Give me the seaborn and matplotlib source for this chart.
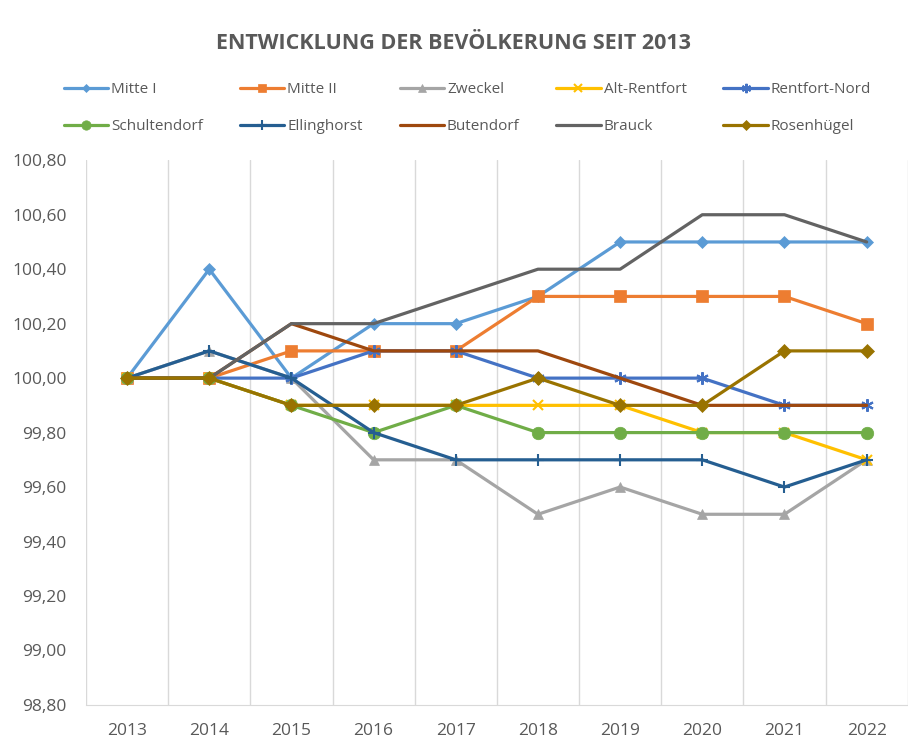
import numpy as np
import pandas as pd
import seaborn as sns
import matplotlib.pyplot as plt
from matplotlib.ticker import FuncFormatter

years = ['2013', '2014', '2015', '2016', '2017', '2018', '2019', '2020', '2021', '2022']

mitte_1 = [100.0, 100.4, 100.0, 100.2, 100.2, 100.3, 100.5, 100.5, 100.5, 100.5]
mitte_2 = [100.0, 100.0, 100.1, 100.1, 100.1, 100.3, 100.3, 100.3, 100.3, 100.2]
zweckel = [100.0, 100.1, 100.0, 99.7, 99.7, 99.5, 99.6, 99.5, 99.5, 99.7]
alt_rentfort = [100.0, 100.0, 99.9, 99.9, 99.9, 99.9, 99.9, 99.8, 99.8, 99.7]
rentfort_nord = [100.0, 100.0, 100.0, 100.1, 100.1, 100.0, 100.0, 100.0, 99.9, 99.9]
schultendorf = [100.0, 100.0, 99.9, 99.8, 99.9, 99.8, 99.8, 99.8, 99.8, 99.8]
ellinghorst = [100.0, 100.1, 100.0, 99.8, 99.7, 99.7, 99.7, 99.7, 99.6, 99.7]
butendorf = [100.0, 100.0, 100.2, 100.1, 100.1, 100.1, 100.0, 99.9, 99.9, 99.9]
brauck = [100.0, 100.0, 100.2, 100.2, 100.3, 100.4, 100.4, 100.6, 100.6, 100.5]
rosenhuegel = [100.0, 100.0, 99.9, 99.9, 99.9, 100.0, 99.9, 99.9, 100.1, 100.1]

names = ['Mitte I', 'Mitte II', 'Zweckel', 'Alt-Rentfort', 'Rentfort-Nord',
         'Schultendorf', 'Ellinghorst', 'Butendorf', 'Brauck', 'Rosenhügel']
values = [mitte_1, mitte_2, zweckel, alt_rentfort, rentfort_nord,
          schultendorf, ellinghorst, butendorf, brauck, rosenhuegel]
colors = ['#5B9BD5', '#ED7D31', '#A5A5A5', '#FFC000', '#4472C4',
          '#70AD47', '#255E91', '#9E480E', '#636363', '#997300']
markers = ['D', 's', '^', 'x', (6, 2, 0), 'o', '+', None, None, 'D']
msizes = [6, 8, 7, 7, 9, 9, 9, 0, 0, 7]

sns.set_style('white')
plt.rcParams['font.family'] = ['Open Sans', 'DejaVu Sans']

fig = plt.figure(figsize=(9.08, 7.42), dpi=100)
ax = fig.add_axes([0.0947, 0.050, 0.905, 0.734])

x = np.arange(len(years))
for name, vals, col, mk, ms in zip(names, values, colors, markers, msizes):
    sns.lineplot(x=x, y=vals, ax=ax, color=col, linewidth=2.3, label=name,
                 marker=mk, markersize=ms, markeredgecolor=col,
                 markeredgewidth=1.5 if mk in ('x', '+', (6, 2, 0)) else 0.5)

ax.set_xlim(-0.5, len(years) - 0.5)
ax.set_ylim(98.8, 100.8)
ax.set_yticks(np.arange(98.8, 100.81, 0.2))
ax.yaxis.set_major_formatter(FuncFormatter(lambda v, p: f'{v:.2f}'.replace('.', ',')))
ax.set_xticks(x)
ax.set_xticklabels(years)
for b in np.arange(-0.5, len(years), 1.0):
    ax.axvline(b, color='#D9D9D9', linewidth=1, zorder=0)

for s in ['top', 'right', 'left']:
    ax.spines[s].set_visible(False)
ax.spines['bottom'].set_color('#D9D9D9')
ax.tick_params(axis='both', length=0, labelsize=12.5, colors='#595959')
ax.tick_params(axis='x', pad=13)
ax.tick_params(axis='y', pad=14)
ax.set_xlabel('')
ax.set_ylabel('')

handles, labels = ax.get_legend_handles_labels()
ax.get_legend().remove()
order = [0, 5, 1, 6, 2, 7, 3, 8, 4, 9]
fig.legend([handles[i] for i in order], [labels[i] for i in order],
           loc='center', bbox_to_anchor=(0.515, 0.854), ncol=5, frameon=False,
           fontsize=11, labelcolor='#595959', handlelength=2.9, handletextpad=0.2,
           columnspacing=2.4, labelspacing=1.45, markerscale=0.75)

fig.text(0.5, 0.942, 'ENTWICKLUNG DER BEVÖLKERUNG SEIT 2013', ha='center', va='center',
         fontsize=15.5, fontweight='bold', color='#595959')

fig.savefig('out.png', dpi=100, facecolor='white')
